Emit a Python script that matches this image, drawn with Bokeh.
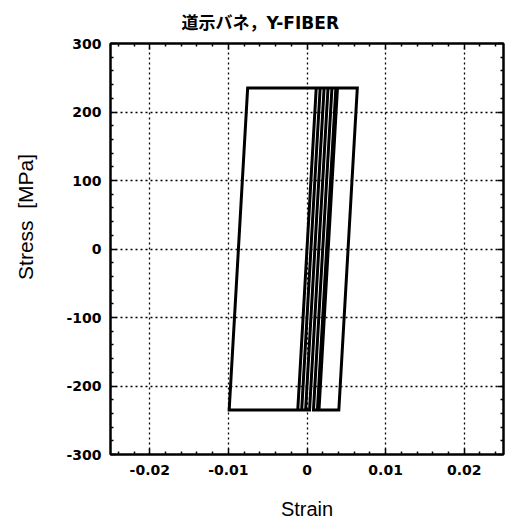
from bokeh.embed import file_html
from bokeh.models import (CustomJSTickFormatter, FixedTicker, LinearAxis,
                          Range1d)
from bokeh.plotting import figure
from bokeh.resources import INLINE

# Turning points of the bilinear (perfectly plastic) stress-strain history
strain = [
    0.0, 0.001175, 0.002675, 0.000325, -0.000675, 0.001675, 0.002175,
    -0.000175, -0.001175, 0.001175, 0.002675, 0.000325, -0.000675, 0.001675,
    0.002175, -0.000175, -0.0099, -0.00755, 0.0064, 0.00405, 0.001325,
    0.003675, 0.003875, 0.001525, 0.000825, 0.003175, 0.003675, 0.001325,
    0.000825, 0.0025,
]
stress = [
    0, 235, 235, -235, -235, 235, 235,
    -235, -235, 235, 235, -235, -235, 235,
    235, -235, -235, 235, 235, -235, -235,
    235, 235, -235, -235, 235, 235, -235,
    -235, 100,
]

x_major = [-0.02, -0.01, 0.0, 0.01, 0.02]
x_minor = [-0.024, -0.022, -0.018, -0.016, -0.014, -0.012, -0.008, -0.006,
           -0.004, -0.002, 0.002, 0.004, 0.006, 0.008, 0.012, 0.014, 0.016,
           0.018, 0.022, 0.024]
y_major = [-300, -200, -100, 0, 100, 200, 300]
y_minor = [-280, -260, -240, -220, -180, -160, -140, -120, -80, -60, -40,
           -20, 20, 40, 60, 80, 120, 140, 160, 180, 220, 240, 260, 280]

title_text = "道示バネ，Y-FIBER"
x_label = "Strain"
y_label = "Stress \u00a0[MPa]"

p = figure(
    frame_width=393, frame_height=411,
    x_range=Range1d(-0.025, 0.025), y_range=Range1d(-300, 300),
    output_backend="svg", toolbar_location=None,
    min_border_left=110, min_border_right=6,
    min_border_top=42, min_border_bottom=73,
    background_fill_color="white", border_fill_color="white",
)

p.title.text = title_text
p.title.align = "left"
p.title.offset = 71
p.title.standoff = 21
p.title.text_font = "DejaVu Sans, Noto Sans CJK JP"
p.title.text_font_size = "17px"
p.title.text_font_style = "bold"
p.title.text_color = "black"

p.outline_line_color = "black"
p.outline_line_width = 2

x_ticker = FixedTicker(ticks=x_major, minor_ticks=x_minor)
y_ticker = FixedTicker(ticks=y_major, minor_ticks=y_minor)


def style_axis(ax):
    ax.axis_line_color = "black"
    ax.axis_line_width = 2
    ax.major_tick_line_color = "black"
    ax.major_tick_line_width = 1.5
    ax.minor_tick_line_color = "black"
    ax.minor_tick_line_width = 1.5
    ax.major_tick_in = 6
    ax.major_tick_out = 0
    ax.minor_tick_in = 3
    ax.minor_tick_out = 0
    ax.major_label_text_font = "DejaVu Sans"
    ax.major_label_text_font_style = "bold"
    ax.major_label_text_font_size = "14px"
    ax.major_label_text_color = "black"


xa = p.xaxis[0]
xa.ticker = x_ticker
xa.formatter = CustomJSTickFormatter(
    code="return tick == 0 ? '0' : tick.toFixed(2);")
style_axis(xa)
xa.major_label_standoff = 10
xa.axis_label = x_label
xa.axis_label_text_font = "Liberation Sans"
xa.axis_label_text_font_style = "normal"
xa.axis_label_text_font_size = "20px"
xa.axis_label_text_color = "black"
xa.axis_label_standoff = 20

ya = p.yaxis[0]
ya.ticker = y_ticker
ya.formatter = CustomJSTickFormatter(code="return tick.toFixed(0);")
style_axis(ya)
ya.major_label_standoff = 9
# leading no-break spaces lift the rotated label above the frame's middle
ya.axis_label = "\u00a0" * 11 + y_label
ya.axis_label_text_font = "Liberation Sans"
ya.axis_label_text_font_style = "normal"
ya.axis_label_text_font_size = "21px"
ya.axis_label_text_color = "black"
ya.axis_label_standoff = 26

# unlabelled tick-only axes on the top and right edges
blank = CustomJSTickFormatter(code="return '';")
for side, tk in (("above", x_ticker), ("right", y_ticker)):
    ax = LinearAxis(ticker=tk, formatter=blank)
    style_axis(ax)
    ax.major_label_standoff = 0
    ax.major_label_text_font_size = "0px"
    p.add_layout(ax, side)

for g in (p.xgrid[0], p.ygrid[0]):
    g.grid_line_color = "black"
    g.grid_line_width = 1.3
    g.grid_line_dash = "2 3"
p.xgrid[0].ticker = x_ticker
p.ygrid[0].ticker = y_ticker

p.line(strain, stress, line_color="black", line_width=3, line_join="miter")

open("out.html", "w").write(file_html(p, INLINE))
